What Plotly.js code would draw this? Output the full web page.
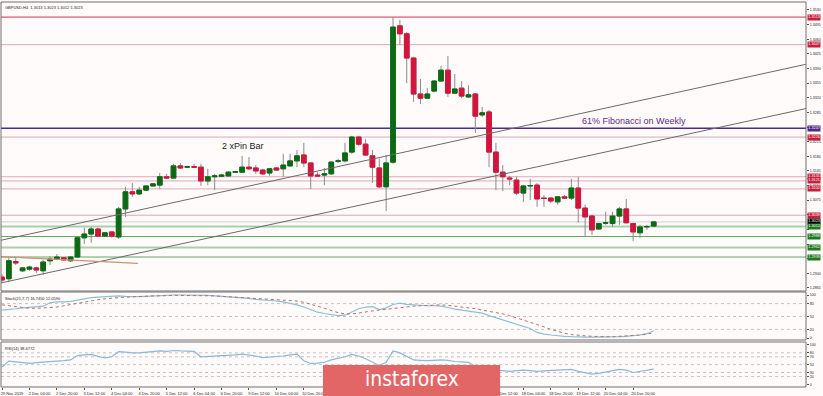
<!DOCTYPE html>
<html><head><meta charset="utf-8">
<script src="https://cdn.plot.ly/plotly-3.0.1.min.js"></script>
<style>html,body{margin:0;padding:0;background:#fffbfb;}#chart{width:823px;height:396px;}</style>
</head><body><div id="chart"></div>
<script>
// ---- data (GBPUSD H4, 29 Nov 2019 12:00 .. 23 Dec 2019 08:00), one entry per bar ----
const tickBars = [0,4,8,12,16,20,24,28,32,36,40,44,48,52,56,60,64,68,72,76,80,84,88,92];
const tickLabels = ["29 Nov 2019","2 Dec 04:00","2 Dec 20:00","3 Dec 12:00","4 Dec 04:00","4 Dec 20:00","5 Dec 12:00","6 Dec 04:00","6 Dec 20:00","9 Dec 12:00","10 Dec 04:00","10 Dec 20:00","11 Dec 12:00","12 Dec 04:00","12 Dec 20:00","13 Dec 12:00","16 Dec 04:00","16 Dec 20:00","17 Dec 12:00","18 Dec 04:00","18 Dec 20:00","19 Dec 12:00","20 Dec 04:00","20 Dec 20:00"];

const openP = [
1.2891,1.2887,1.2928,1.2906,1.2910,1.2913,1.2906,1.2930,1.2934,1.2937,
1.2930,1.2939,1.2985,1.2994,1.3006,1.2989,1.2999,1.2987,1.3054,1.3095,
1.3090,1.3099,1.3109,1.3111,1.3131,1.3128,1.3157,1.3154,1.3155,1.3154,
1.3121,1.3131,1.3132,1.3133,1.3142,1.3142,1.3154,1.3152,1.3147,1.3140,
1.3152,1.3150,1.3157,1.3169,1.3183,1.3164,1.3135,1.3135,1.3138,1.3168,
1.3169,1.3190,1.3226,1.3209,1.3181,1.3152,1.3107,1.3166,1.3492,1.3473,
1.3415,1.3329,1.3319,1.3336,1.3360,1.3386,1.3331,1.3343,1.3322,1.3329,
1.3279,1.3286,1.3190,1.3142,1.3128,1.3123,1.3092,1.3109,1.3111,1.3080,
1.3080,1.3071,1.3083,1.3080,1.3104,1.3056,1.3037,1.3006,1.3020,1.3019,
1.3037,1.3054,1.3019,1.2997,1.3011,1.3013];
const highP = [
1.2898,1.2939,1.2937,1.2915,1.2918,1.2916,1.2932,1.2941,1.2946,1.2939,
1.2941,1.2987,1.3009,1.3011,1.3009,1.2999,1.3001,1.3059,1.3107,1.3116,
1.3107,1.3111,1.3116,1.3140,1.3138,1.3162,1.3164,1.3157,1.3162,1.3162,
1.3150,1.3138,1.3138,1.3145,1.3145,1.3181,1.3178,1.3159,1.3150,1.3152,
1.3154,1.3186,1.3186,1.3195,1.3212,1.3166,1.3142,1.3152,1.3169,1.3174,
1.3212,1.3229,1.3229,1.3221,1.3195,1.3174,1.3183,1.3513,1.3506,1.3477,
1.3418,1.3365,1.3343,1.3362,1.3396,1.3420,1.3377,1.3360,1.3350,1.3331,
1.3298,1.3291,1.3212,1.3159,1.3133,1.3131,1.3111,1.3126,1.3116,1.3087,
1.3083,1.3085,1.3087,1.3126,1.3131,1.3064,1.3040,1.3021,1.3047,1.3047,
1.3059,1.3078,1.3021,1.3016,1.3016,1.3023];
const lowP = [
1.2879,1.2879,1.2920,1.2903,1.2906,1.2901,1.2896,1.2920,1.2932,1.2930,
1.2927,1.2937,1.2970,1.2973,1.2987,1.2987,1.2985,1.2982,1.3035,1.3083,
1.3087,1.3097,1.3107,1.3102,1.3126,1.3126,1.3150,1.3152,1.3152,1.3109,
1.3111,1.3099,1.3130,1.3131,1.3140,1.3140,1.3147,1.3138,1.3135,1.3133,
1.3145,1.3131,1.3154,1.3154,1.3154,1.3102,1.3131,1.3111,1.3135,1.3164,
1.3166,1.3186,1.3205,1.3181,1.3116,1.3104,1.3049,1.3162,1.3446,1.3355,
1.3310,1.3305,1.3317,1.3333,1.3358,1.3322,1.3329,1.3319,1.3319,1.3236,
1.3274,1.3154,1.3099,1.3097,1.3111,1.3087,1.3071,1.3075,1.3059,1.3059,
1.3068,1.3064,1.3078,1.3075,1.3021,1.2987,1.2992,1.3004,1.3016,1.3011,
1.3016,1.3019,1.2977,1.2985,1.3004,1.3012];
const closeP = [
1.2884,1.2930,1.2925,1.2913,1.2915,1.2908,1.2927,1.2934,1.2939,1.2932,
1.2939,1.2985,1.2994,1.3006,1.2989,1.2997,1.2989,1.3054,1.3095,1.3090,
1.3099,1.3109,1.3114,1.3131,1.3128,1.3157,1.3152,1.3155,1.3154,1.3121,
1.3131,1.3133,1.3135,1.3142,1.3143,1.3154,1.3150,1.3145,1.3138,1.3150,
1.3147,1.3159,1.3169,1.3181,1.3164,1.3133,1.3133,1.3138,1.3166,1.3169,
1.3188,1.3226,1.3209,1.3183,1.3154,1.3107,1.3164,1.3489,1.3473,1.3415,
1.3329,1.3319,1.3329,1.3360,1.3386,1.3331,1.3341,1.3324,1.3327,1.3276,
1.3284,1.3190,1.3142,1.3131,1.3126,1.3092,1.3109,1.3110,1.3078,1.3079,
1.3073,1.3083,1.3080,1.3104,1.3056,1.3035,1.3004,1.3019,1.3021,1.3037,
1.3054,1.3021,1.2999,1.3011,1.3012,1.3023];

const stochK = [
65,66,68,70,71,72,74,82,84,84,
85,88,91,94,95,96,97,98,97,96,
96,97,98,99,99,100,100,100,99,99,
99,98,97,95,94,93,92,90,89,88,
86,84,81,77,72,66,60,57,54,52,
53,60,68,72,73,66,70,78,81,78,
77,75,75,75,74,71,67,65,63,61,
58,52,47,42,37,32,28,22,13,9,
7,5,4,3,2,2,2,2,3,3,
3,4,5,7,10,16.745];
const stochD = [
77,75,72,70,69,69,70,70,72,75,
78,81,84,87,89,91,93,94,95,96,
97,97,98,98,99,99,99,99,99,99,
99,98,97,96,95,95,94,93,92,91,
90,89,87,86,83,79,74,69,64,59,
56,56,58,61,63,65,67,69,71,73,
74,75,76,77,77,76,74,73,71,68,
65,62,60,56,52,47,41,36,31,26,
20,15,11,8,6,5,4,3,3,3,
4,4,5,7,9,12.059];
const rsi14 = [
44,59,57,55,53,55,56,57,58,60,
62,73,75,76,71,67,70,83,82,80,
80,82,84,85,84,86,85,85,84,70,
71,71,72,74,75,77,75,72,68,69,
70,72,75,77,60,53,54,56,62,66,
70,76,72,65,57,48,56,85,80,72,
62,61,60,61,62,61,58,57,56,46,
44,38,36,34,33,35,36,35,33,34,
35,35,37,38,33,30,26,28,32,35,
38,36,30,33,35,38.6772];

const levelPrices = [1.3513,1.3447,1.3247,1.3226,1.3131,1.3121,1.3102,1.3039,1.3023,1.3012,1.2988,1.2962,1.2939];
const levelLabels = ["1.3513","1.3447","1.3247","1.3226","1.3131","1.3121","1.3102","1.3039","1.3023","1.3012","1.2988","1.2962","1.2939"];
const levelKinds = ["resistance","resistanceLight","fibo","resistanceLight","resistanceLight","resistanceLight","resistanceLight","resistanceLight","bid","supportLight","support","supportLight","support"];

const trendUpperX = [-1,118], trendUpperY = [1.2976,1.3403];
const trendLowerX = [-1,118], trendLowerY = [1.2874,1.3297];
const trendShortX = [-0.15,19.8], trendShortY = [1.2940,1.2924];

const priceTicks = [1.2865,1.2900,1.2935,1.2970,1.3005,1.3040,1.3075,1.3110,1.3145,1.3180,1.3215,1.3250,1.3285,1.3320,1.3355,1.3390,1.3425,1.3460,1.3495,1.3530];
const priceTickText = ["1.2865","1.2900","","","","","1.3075","1.3110","1.3145","1.3180","1.3215","","1.3285","1.3320","1.3355","1.3390","1.3425","1.3460","1.3495","1.3530"];
const stochTicks = [0,20,50,80,100];
const stochLevels = [20,50,80];
const rsiTicks = [0,20,30,50,70,80,100];
const rsiLevels = [20,30,50,70,80];

// ---- drawing ----
const idx = openP.map((_, i) => i);
const bodyHigh = openP.map((o, i) => Math.max(o, closeP[i]));
const bodyLow = openP.map((o, i) => Math.min(o, closeP[i]));
const GREEN = '#0b6a12', RED = '#d3143c', WICK = '#8a8a8a';
const tiny = {family:'Liberation Sans, Arial, sans-serif', size:4, color:'#222'};

const traces = [
  {type:'candlestick', x:idx, open:openP, high:highP, low:lowP, close:closeP, xaxis:'x', yaxis:'y',
   whiskerwidth:0, hoverinfo:'skip',
   increasing:{line:{color:WICK,width:1}, fillcolor:'rgba(0,0,0,0)'},
   decreasing:{line:{color:WICK,width:1}, fillcolor:'rgba(0,0,0,0)'}},
  {type:'candlestick', x:idx, open:openP, high:bodyHigh, low:bodyLow, close:closeP, xaxis:'x', yaxis:'y',
   whiskerwidth:0, hoverinfo:'skip',
   increasing:{line:{color:GREEN,width:1}, fillcolor:GREEN},
   decreasing:{line:{color:RED,width:1}, fillcolor:RED}},
  {type:'scatter', mode:'lines', x:trendUpperX, y:trendUpperY, xaxis:'x', yaxis:'y', line:{color:'#6b6b6b',width:1}, hoverinfo:'skip'},
  {type:'scatter', mode:'lines', x:trendLowerX, y:trendLowerY, xaxis:'x', yaxis:'y', line:{color:'#6b6b6b',width:1}, hoverinfo:'skip'},
  {type:'scatter', mode:'lines', x:trendShortX, y:trendShortY, xaxis:'x', yaxis:'y', line:{color:'#c99272',width:1.2}, hoverinfo:'skip'},
  {type:'scatter', mode:'lines', x:idx, y:stochK, xaxis:'x', yaxis:'y2', line:{color:'#8cc0d0',width:1.2}, hoverinfo:'skip'},
  {type:'scatter', mode:'lines', x:idx, y:stochD, xaxis:'x', yaxis:'y2', line:{color:'#c06a6a',width:1,dash:'dot'}, hoverinfo:'skip'},
  {type:'scatter', mode:'lines', x:idx, y:rsi14, xaxis:'x', yaxis:'y3', line:{color:'#8ab8d6',width:1.2}, hoverinfo:'skip'}
];

const levelStyle = {
  resistance:{line:'#c8324e', w:1, bg:'#c8203c'},
  resistanceLight:{line:'#dca8b5', w:1, bg:'#c8203c'},
  fibo:{line:'#4b2a8c', w:1.5, bg:'#4b2a8c'},
  bid:{line:'#cfcfcf', w:1, bg:'#000000'},
  supportLight:{line:'#abcfab', w:2, bg:'#1e7a1e'},
  support:{line:'#5ea85e', w:1, bg:'#1e7a1e'}
};

const shapes = [], annotations = [];
levelPrices.forEach((p, i) => {
  const s = levelStyle[levelKinds[i]];
  shapes.push({type:'line', xref:'paper', x0:0, x1:1, yref:'y', y0:p, y1:p, line:{color:s.line, width:s.w}, layer:'below'});
  annotations.push({xref:'paper', x:1, xanchor:'left', xshift:1, yref:'y', y:p, yanchor:'middle',
    text:levelLabels[i], showarrow:false, font:{family:tiny.family, size:3.8, color:'#fff'}, bgcolor:s.bg, borderpad:0.3});
});
stochLevels.forEach(v => shapes.push({type:'line', xref:'paper', x0:0, x1:1, yref:'y2', y0:v, y1:v, line:{color:'#c4c4c4', width:1, dash:'dot'}, layer:'below'}));
rsiLevels.forEach(v => shapes.push({type:'line', xref:'paper', x0:0, x1:1, yref:'y3', y0:v, y1:v, line:{color:'#c4c4c4', width:1, dash:'dot'}, layer:'below'}));
['y','y2','y3'].forEach(r => shapes.push({type:'rect', xref:'paper', x0:0, x1:1, yref:r+' domain', y0:0, y1:1, line:{color:'#6f6f6f', width:1}, layer:'above'}));
// logo
shapes.push({type:'rect', xref:'paper', yref:'paper', x0:0.400, x1:0.620, y0:-0.03, y1:0.0571, fillcolor:'#e36666', line:{width:0}, layer:'above'});

annotations.push(
  {xref:'paper', yref:'paper', x:0, y:1, xanchor:'left', yanchor:'top', xshift:2, yshift:-1, showarrow:false, text:'GBPUSD,H4  1.3013 1.3023 1.3012 1.3023', font:tiny},
  {xref:'paper', yref:'y2 domain', x:0, y:1, xanchor:'left', yanchor:'top', xshift:2, yshift:-1.5, showarrow:false, text:'Stoch(21,7,7) 16.7450 12.0590', font:tiny},
  {xref:'paper', yref:'y3 domain', x:0, y:1, xanchor:'left', yanchor:'top', xshift:2, yshift:-1.5, showarrow:false, text:'RSI(14) 38.6772', font:tiny},
  {xref:'x', yref:'y', x:35.06, y:1.32047, showarrow:false, text:'2 xPin Bar', font:{family:'Liberation Sans, Arial, sans-serif', size:9, color:'#1c1c1c'}},
  {xref:'x', yref:'y', x:92.1, y:1.32645, showarrow:false, text:'61% Fibonacci on Weekly', font:{family:'Liberation Sans, Arial, sans-serif', size:9, color:'#5b2a88'}},
  {xref:'paper', yref:'paper', x:0.51, y:0.0208, xanchor:'center', yanchor:'middle', showarrow:false, text:'instaforex',
   font:{family:'Liberation Sans Narrow, DejaVu Sans Condensed, Liberation Sans, sans-serif', size:21, color:'#ffffff'}}
);

const yCommon = {side:'right', ticks:'outside', ticklen:2, tickcolor:'#555', tickfont:{family:tiny.family, size:3.6, color:'#222'},
  showgrid:false, zeroline:false, showline:false, fixedrange:true};

const layout = {
  width:823, height:396, autosize:false,
  margin:{l:1, r:17, t:2, b:9, pad:0},
  paper_bgcolor:'#fffbfb', plot_bgcolor:'#fffbfb',
  showlegend:false, hovermode:false, dragmode:false,
  boxmode:'overlay', boxgap:0.32, boxgroupgap:0,
  font:{family:'Liberation Sans, Arial, sans-serif'},
  xaxis:{anchor:'y3', domain:[0,1], range:[-0.146,117.2], type:'linear', tickvals:tickBars, ticktext:tickLabels,
    ticks:'outside', ticklen:2, tickcolor:'#555', tickfont:{family:tiny.family, size:4, color:'#222'}, ticklabelshift:10,
    showgrid:false, zeroline:false, showline:false, rangeslider:{visible:false}, fixedrange:true},
  yaxis:Object.assign({}, yCommon, {domain:[0.24935,1], range:[1.28577,1.35491], tickvals:priceTicks, ticktext:priceTickText}),
  yaxis2:Object.assign({}, yCommon, {domain:[0.12208,0.24675], range:[-4.65,106.98], tickvals:stochTicks}),
  yaxis3:Object.assign({}, yCommon, {domain:[0,0.11688], range:[-6.87,107.6], tickvals:rsiTicks}),
  shapes:shapes, annotations:annotations
};

Plotly.newPlot('chart', traces, layout, {staticPlot:true, displayModeBar:false});
</script></body></html>
